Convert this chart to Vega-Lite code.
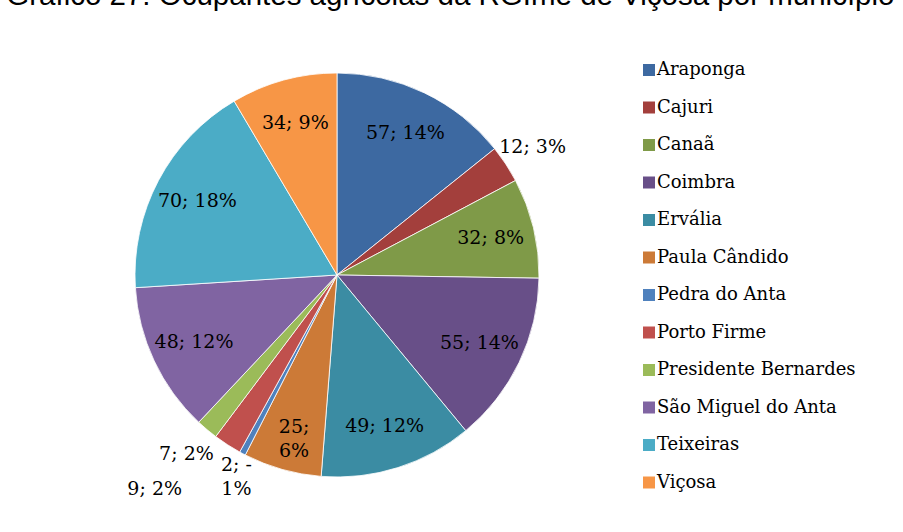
{
  "$schema": "https://vega.github.io/schema/vega-lite/v6.json",
  "width": 404,
  "height": 404,
  "autosize": "none",
  "padding": {"left": 135, "top": 73, "right": 364, "bottom": 55},
  "background": "white",
  "title": {
    "text": "Gráfico 27: Ocupantes agrícolas da RGIme de Viçosa por município",
    "anchor": "start",
    "font": "Liberation Sans",
    "fontSize": 29.5,
    "fontWeight": "normal",
    "color": "black",
    "dx": -56,
    "dy": -5
  },
  "config": {
    "view": {"stroke": null},
    "text": {"font": "DejaVu Serif", "fontSize": 19, "color": "black", "lineBreak": "\n", "lineHeight": 24},
    "legend": {"labelFont": "DejaVu Serif", "labelFontSize": 18, "labelColor": "black"}
  },
  "data": {
    "values": [
      {"idx": 1, "name": "Araponga", "value": 57, "label": "57; 14%"},
      {"idx": 2, "name": "Cajuri", "value": 12, "label": "12; 3%"},
      {"idx": 3, "name": "Canaã", "value": 32, "label": "32; 8%"},
      {"idx": 4, "name": "Coimbra", "value": 55, "label": "55; 14%"},
      {"idx": 5, "name": "Ervália", "value": 49, "label": "49; 12%"},
      {"idx": 6, "name": "Paula Cândido", "value": 25, "label": "25;\n6%"},
      {"idx": 7, "name": "Pedra do Anta", "value": 2, "label": "2; -\n1%"},
      {"idx": 8, "name": "Porto Firme", "value": 9, "label": "9; 2%"},
      {"idx": 9, "name": "Presidente Bernardes", "value": 7, "label": "7; 2%"},
      {"idx": 10, "name": "São Miguel do Anta", "value": 48, "label": "48; 12%"},
      {"idx": 11, "name": "Teixeiras", "value": 70, "label": "70; 18%"},
      {"idx": 12, "name": "Viçosa", "value": 34, "label": "34; 9%"}
    ]
  },
  "encoding": {
    "theta": {"field": "value", "type": "quantitative", "stack": true},
    "order": {"field": "idx", "type": "quantitative"}
  },
  "layer": [
    {
      "mark": {"type": "arc", "outerRadius": 202, "stroke": "white", "strokeWidth": 0.8},
      "encoding": {
        "color": {
          "field": "name",
          "type": "nominal",
          "sort": null,
          "scale": {
            "domain": ["Araponga", "Cajuri", "Canaã", "Coimbra", "Ervália", "Paula Cândido", "Pedra do Anta", "Porto Firme", "Presidente Bernardes", "São Miguel do Anta", "Teixeiras", "Viçosa"],
            "range": ["#3D69A1", "#A33F3C", "#7F9A48", "#684F88", "#3B8CA3", "#CC7A37", "#4F81BD", "#C0504D", "#9BBB59", "#8064A2", "#4BACC6", "#F79646"]
          },
          "legend": {
            "title": null,
            "orient": "none",
            "legendX": 505,
            "legendY": -12,
            "symbolType": "square",
            "symbolSize": 144,
            "symbolStrokeWidth": 0,
            "labelFont": "DejaVu Serif",
            "labelFontSize": 18,
            "labelColor": "black",
            "labelOffset": -1,
            "rowPadding": 19.5,
            "labelLimit": 400
          }
        }
      }
    },
    {
      "mark": {"type": "text", "radius": 158, "align": "center", "baseline": "middle"},
      "encoding": {
        "text": {"condition": {"test": "datum.value >= 20", "field": "label"}, "value": ""}
      }
    },
    {
      "mark": {"type": "text", "radius": 234, "align": "center", "baseline": "middle"},
      "encoding": {
        "text": {"condition": {"test": "datum.name == 'Cajuri' || datum.name == 'Presidente Bernardes'", "field": "label"}, "value": ""}
      }
    },
    {
      "mark": {"type": "text", "radius": 215, "align": "center", "baseline": "middle"},
      "encoding": {
        "text": {"condition": {"test": "datum.name == 'Pedra do Anta'", "field": "label"}, "value": ""}
      }
    },
    {
      "mark": {"type": "text", "radius": 255, "align": "center", "baseline": "middle", "dx": -44},
      "encoding": {
        "text": {"condition": {"test": "datum.name == 'Porto Firme'", "field": "label"}, "value": ""}
      }
    }
  ]
}
